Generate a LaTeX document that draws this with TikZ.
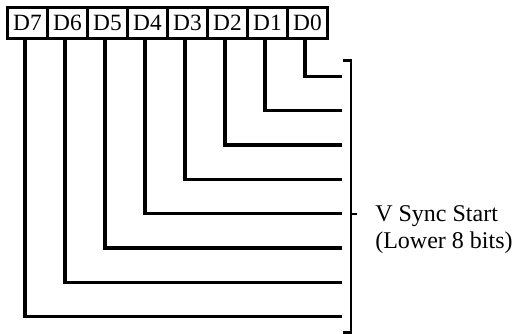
\documentclass[tikz,border=0pt]{standalone}
\usepackage{fontspec}
\setmainfont{Liberation Serif}
\begin{document}
\begin{tikzpicture}[x=0.75pt,y=-0.75pt,
  bitbox/.style={draw,line width=1.9pt,minimum width=30pt,minimum height=23.25pt,inner sep=0pt,font=\fontsize{17.5}{19}\selectfont,anchor=north west},
  wire/.style={line width=2.4pt},
  brace/.style={line width=2pt},
  lbl/.style={font=\fontsize{18}{20}\selectfont,anchor=base west,inner sep=0pt}]
\useasboundingbox (0,0) rectangle (516,334);
\foreach \n [count=\i from 0] in {7,6,5,4,3,2,1,0}
  \node[bitbox] (d\n) at ({6.2+40*\i},6) {D\n};
\foreach \n [count=\i from 0] in {7,6,5,4,3,2,1,0}{
  \coordinate (e\n) at (342,{76.5+34.3*\n});
  \draw[wire] ([xshift={-2.5*0.75pt}]d\n.south) |- (e\n);
}
\coordinate (bt) at (343,60.5);
\coordinate (bb) at (343,332.5);
\coordinate (bm) at (351,214);
\coordinate (bk) at (357,214);
\draw[brace] (bt) -- ++(8,0) -- ++(0,272) -- (bb);
\draw[brace] (bm) -- (bk);
\node[lbl] (vs) at (375,221) {V Sync Start};
\node[lbl] (lb) at (375,248) {(Lower 8 bits)};
\end{tikzpicture}
\end{document}
